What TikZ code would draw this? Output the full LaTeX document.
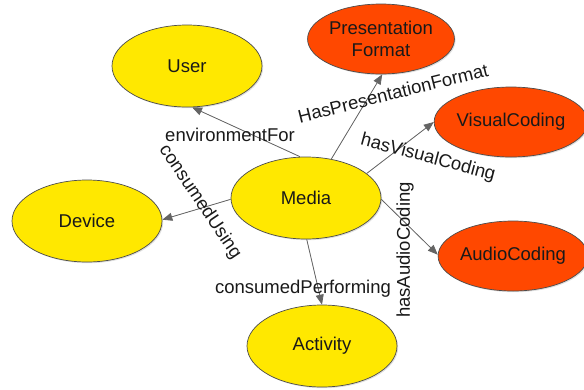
\documentclass[tikz,border=0pt]{standalone}
\usepackage{fontspec}
\setmainfont{Liberation Sans}
\usetikzlibrary{shapes.geometric,arrows.meta,shadows}
\definecolor{nodeyellow}{RGB}{255,232,0}
\definecolor{nodeorange}{RGB}{255,72,0}
\definecolor{edgegray}{RGB}{100,100,100}
\definecolor{txt}{RGB}{25,25,25}
\begin{document}
\begin{tikzpicture}[x=1pt,y=-1pt,
  concept/.style={ellipse,draw=black!70,line width=0.7pt,inner sep=0pt,
    font=\fontsize{18.5}{20}\selectfont,text=txt,align=center,
    drop shadow={shadow xshift=1.2pt,shadow yshift=-1.2pt,opacity=0.25}},
  ynode/.style={concept,fill=nodeyellow,minimum width=150pt,minimum height=82pt},
  onode/.style={concept,fill=nodeorange,minimum width=142pt,minimum height=70pt},
  rel/.style={draw=edgegray,line width=0.8pt,-{Triangle[length=10pt,width=8pt]},fill=edgegray},
  lbl/.style={font=\fontsize{18.5}{20}\selectfont,text=txt,inner sep=0pt}
]
\useasboundingbox (0,0) rectangle (584,389);
\node[ynode] (user) at (187,66) {User};
\node[onode] (pf) at (381,39) {Presentation\\[1.5pt]Format};
\node[onode] (vc) at (511,122) {VisualCoding};
\node[ynode] (media) at (306,198) {Media};
\node[ynode] (device) at (87,221) {Device};
\node[onode] (ac) at (513,256) {AudioCoding};
\node[ynode] (activity) at (322,346) {Activity};

\draw[rel] (media.98) -- (user.277);
\draw[rel] (media.57) -- (pf.272);
\draw[rel] (media.22) -- (vc.180);
\draw[rel] (media.181) -- (device.1);
\draw[rel] (media.271) -- (activity.90);
\draw[rel] (media.-1) -- (ac.179);

\node[lbl] (lenv) at (230,135) {environmentFor};
\node[lbl,rotate=-56] (lcu) at (200,202) {consumedUsing};
\node[lbl,rotate=14] (lhpf) at (393,93) {HasPresentationFormat};
\node[lbl,rotate=-15] (lhvc) at (428,158) {hasVisualCoding};
\node[lbl,rotate=90] (lhac) at (405,250) {hasAudioCoding};
\node[lbl] (lcp) at (303,289) {consumedPerforming};
\end{tikzpicture}
\end{document}
